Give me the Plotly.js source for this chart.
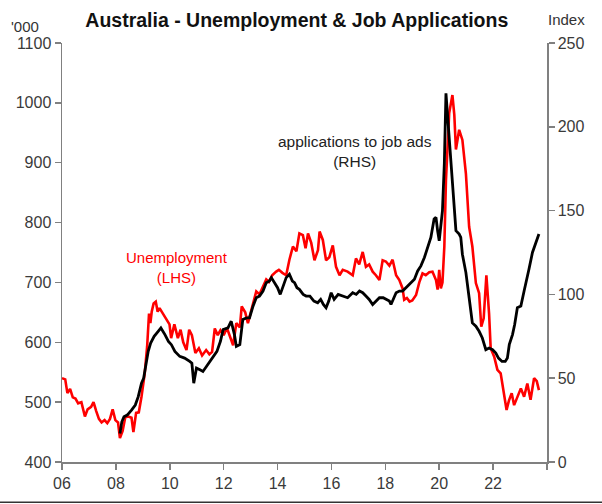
<!DOCTYPE html>
<html>
<head>
<meta charset="utf-8">
<script src="https://cdn.plot.ly/plotly-3.0.1.min.js"></script>
<style>html,body{margin:0;padding:0;background:#fff;}#chart{width:602px;height:504px;}</style>
</head>
<body>
<div id="chart"></div>
<script>
// Unemployment ('000, LHS) - decimal year and value
const unempDates = [2006.00,2006.12,2006.20,2006.30,2006.40,2006.50,2006.60,2006.72,2006.85,2006.95,
2007.08,2007.17,2007.27,2007.37,2007.47,2007.58,2007.68,2007.78,2007.88,2007.98,
2008.08,2008.15,2008.25,2008.35,2008.47,2008.58,2008.65,2008.75,2008.85,2008.95,
2009.07,2009.16,2009.23,2009.28,2009.33,2009.40,2009.48,2009.55,2009.62,2009.75,2009.87,2009.99,
2010.05,2010.17,2010.30,2010.40,2010.50,2010.62,2010.72,2010.82,2010.95,
2011.08,2011.20,2011.35,2011.47,2011.57,2011.67,2011.78,2011.88,2012.00,2012.12,
2012.35,2012.47,2012.60,2012.67,2012.80,2012.90,2013.02,2013.12,2013.21,2013.33,2013.46,2013.58,2013.68,2013.80,2013.95,
2014.05,2014.18,2014.32,2014.44,2014.57,2014.70,2014.81,2014.94,2015.04,2015.13,2015.25,2015.37,2015.50,2015.56,2015.68,2015.80,2015.92,
2016.05,2016.17,2016.30,2016.42,2016.60,2016.79,2016.91,2017.03,2017.16,2017.28,2017.40,2017.53,2017.65,2017.78,2017.90,
2018.02,2018.15,2018.27,2018.40,2018.52,2018.64,2018.70,2018.80,2018.90,2019.00,2019.14,2019.26,2019.38,2019.50,2019.63,2019.75,2019.88,2019.94,
2020.00,2020.06,2020.12,2020.19,2020.25,2020.37,2020.49,2020.56,2020.62,2020.74,2020.86,2020.99,
2021.11,2021.23,2021.36,2021.48,2021.56,2021.65,2021.75,2021.85,2021.91,2022.04,2022.16,2022.28,2022.41,2022.50,2022.59,2022.69,2022.78,2022.90,
2023.03,2023.15,2023.27,2023.39,2023.52,2023.62,2023.70];
const unempValues = [540,538,515,522,508,506,498,500,476,488,
492,500,485,472,466,470,465,472,488,470,
466,440,452,475,476,474,450,482,483,509,
548,593,648,632,651,665,668,651,657,648,638,630,
607,630,607,621,600,587,621,612,582,
590,578,587,580,584,623,612,620,612,624,
595,632,625,660,650,632,654,668,685,680,693,705,701,712,718,
721,716,712,738,760,752,782,779,757,782,766,737,754,785,771,737,742,
762,726,712,721,718,712,740,730,751,726,730,718,712,704,737,
735,728,738,712,704,690,671,674,668,670,679,700,715,712,717,718,704,688,
721,690,700,760,871,983,1013,980,922,955,938,882,
793,760,699,682,626,640,712,648,590,576,554,548,515,487,503,515,495,508,
523,509,531,504,540,535,520];

// Applications to job ads (index, RHS)
const appsDates = [2008.15,2008.22,2008.30,2008.42,2008.58,2008.72,2008.83,2008.95,
2009.03,2009.12,2009.20,2009.29,2009.42,2009.57,2009.67,2009.82,2009.95,
2010.06,2010.19,2010.37,2010.55,2010.74,2010.82,2010.89,2010.99,
2011.12,2011.23,2011.36,2011.48,2011.62,2011.75,2011.88,2011.98,
2012.16,2012.28,2012.40,2012.47,2012.60,2012.71,2012.85,2012.96,
2013.09,2013.21,2013.33,2013.46,2013.58,2013.70,2013.77,2013.90,
2014.00,2014.10,2014.20,2014.32,2014.44,2014.55,2014.63,2014.72,2014.81,2014.95,
2015.06,2015.20,2015.35,2015.49,2015.60,2015.70,2015.80,2015.90,2015.99,
2016.10,2016.25,2016.42,2016.60,2016.79,2016.92,2017.04,2017.16,2017.28,2017.40,2017.53,2017.65,2017.78,2017.92,
2018.05,2018.15,2018.21,2018.30,2018.40,2018.52,2018.64,2018.83,2018.95,
2019.08,2019.20,2019.32,2019.45,2019.57,2019.69,2019.81,2019.88,2019.94,
2020.00,2020.12,2020.19,2020.25,2020.37,2020.49,2020.62,2020.74,2020.80,2020.86,2020.99,
2021.11,2021.23,2021.36,2021.48,2021.60,2021.73,2021.85,2021.98,
2022.10,2022.20,2022.33,2022.45,2022.53,2022.60,2022.72,2022.80,2022.90,
2023.03,2023.15,2023.21,2023.33,2023.46,2023.55,2023.64,2023.70];
const appsValues = [17,24,27,28,31,34,39,47,
50,59,66,71,75,78,80,76,72,
70,66,63,62,60,59,47,56,
55,54,57,60,63,66,72,79,
80,84,76,69,70,85,86,86,
93,98,99,102,107,108,110,107,
104,100,104,110,112,108,107,104,103,100,
99,99,96,95,97,94,92,96,101,
97,100,99,98,101,100,102,101,99,97,94,96,98,98,
97,96,94,97,101,102,102,105,107,
109,114,117,122,128,134,145,146,138,
132,150,178,220,195,168,138,136,134,124,113,
98,83,81,78,74,67,68,67,
65,62,60,60,62,70,76,82,92,
93,102,107,115,125,129,133,136];

const xTickVals = [2006,2008,2010,2012,2014,2016,2018,2020,2022,2024];
const xTickText = ['06','08','10','12','14','16','18','20','22',''];
const lhsTicks = [400,500,600,700,800,900,1000,1100];
const rhsTicks = [0,50,100,150,200,250];

const FONT = 'Arial, "Liberation Sans", sans-serif';
const AXC = '#808080';
const TICKFONT = {family: FONT, size: 16, color: '#3a3a3a'};

const traces = [
  {x: unempDates, y: unempValues, type: 'scatter', mode: 'lines', name: 'Unemployment (LHS)',
   line: {color: '#ff0000', width: 2.6}, yaxis: 'y'},
  {x: appsDates, y: appsValues, type: 'scatter', mode: 'lines', name: 'applications to job ads (RHS)',
   line: {color: '#000000', width: 2.8}, yaxis: 'y2'}
];

const layout = {
  width: 602, height: 504,
  margin: {l: 62, r: 55, t: 43, b: 42},
  paper_bgcolor: '#ffffff', plot_bgcolor: '#ffffff',
  showlegend: false,
  font: {family: FONT, color: '#333333', size: 15},
  title: {text: '<b>Australia - Unemployment & Job Applications</b>', font: {family: FONT, size: 19.5, color: '#111111'},
          x: 0.493, xanchor: 'center', xref: 'container', y: 0.96, yanchor: 'middle', yref: 'container'},
  xaxis: {range: [2006, 2024], tickmode: 'array', tickvals: xTickVals, ticktext: xTickText,
          showgrid: false, zeroline: false, showline: true, linecolor: AXC, linewidth: 1.5,
          ticks: 'outside', ticklen: 6, tickwidth: 1.5, tickcolor: AXC, tickfont: TICKFONT},
  yaxis: {range: [400, 1100], tickmode: 'array', tickvals: lhsTicks,
          showgrid: false, zeroline: false, showline: true, linecolor: AXC, linewidth: 1.5,
          ticks: 'outside', ticklen: 6, tickwidth: 1.5, tickcolor: AXC, tickfont: TICKFONT},
  yaxis2: {range: [0, 250], tickmode: 'array', tickvals: rhsTicks, overlaying: 'y', side: 'right',
          showgrid: false, zeroline: false, showline: true, linecolor: AXC, linewidth: 1.5,
          ticks: 'outside', ticklen: 6, tickwidth: 1.5, tickcolor: AXC, tickfont: TICKFONT},
  annotations: [
    {text: "'000", xref: 'paper', yref: 'paper', x: -0.043, y: 1.04, xanchor: 'right', yanchor: 'middle',
     showarrow: false, font: {family: FONT, size: 15, color: '#333333'}},
    {text: 'Index', xref: 'paper', yref: 'paper', x: 1.04, y: 1.055, xanchor: 'center', yanchor: 'middle',
     showarrow: false, font: {family: FONT, size: 15, color: '#333333'}},
    {text: 'applications to job ads<br>(RHS)', xref: 'paper', yref: 'paper', x: 0.604, y: 0.74,
     xanchor: 'center', yanchor: 'middle', showarrow: false, align: 'center',
     font: {family: FONT, size: 15.5, color: '#222222'}},
    {text: 'Unemployment<br>(LHS)', xref: 'paper', yref: 'paper', x: 0.237, y: 0.465,
     xanchor: 'center', yanchor: 'middle', showarrow: false, align: 'center',
     font: {family: FONT, size: 15, color: '#ff0000'}}
  ],
  shapes: [
    {type: 'line', xref: 'paper', yref: 'paper', x0: -0.2, x1: 1.2, y0: -0.096, y1: -0.096,
     line: {color: '#333333', width: 1.5}}
  ]
};

Plotly.newPlot('chart', traces, layout, {displayModeBar: false, staticPlot: true});
</script>
</body>
</html>
